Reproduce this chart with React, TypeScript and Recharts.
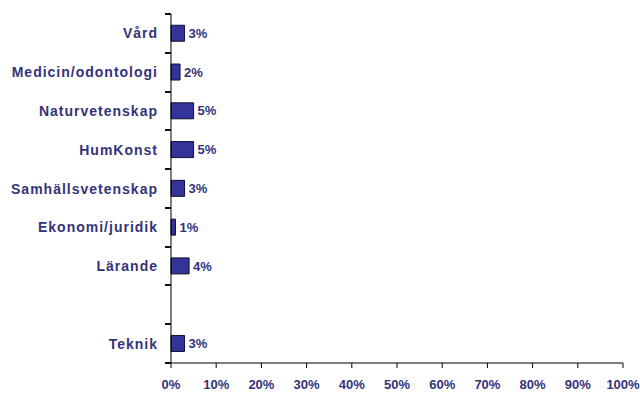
import { BarChart, Bar, XAxis, YAxis, LabelList } from "recharts";

const categories = [
  "Vård",
  "Medicin/odontologi",
  "Naturvetenskap",
  "HumKonst",
  "Samhällsvetenskap",
  "Ekonomi/juridik",
  "Lärande",
  " ",
  "Teknik",
];
const shares: (number | null)[] = [3, 2, 5, 5, 3, 1, 4, null, 3];
const xTicks = [0, 10, 20, 30, 40, 50, 60, 70, 80, 90, 100];

const data = categories.map((name, i) => ({ name, value: shares[i] }));

const W = 640;
const H = 397;
const TOP = 14;
const BOTTOM_AXIS = 363;
const textColor = "#33337a";
const font = "Liberation Sans, Arial, sans-serif";
// tick marks sit between categories, half a band above each label
const band = (BOTTOM_AXIS - TOP) / categories.length;

function CategoryTick(props: any) {
  const { x, y, payload, index } = props;
  const last = index === categories.length - 1;
  return (
    <g>
      <rect x={x + 6} y={Math.round(y - band / 2) - 1} width={6} height={2} fill="#111" />
      {last && <rect x={x + 6} y={Math.round(y + band / 2) - 1} width={6} height={2} fill="#111" />}
      <text
        x={x - 1}
        y={y}
        dy={5}
        textAnchor="end"
        fill={textColor}
        fontSize={14}
        fontWeight="bold"
        letterSpacing={1}
        fontFamily={font}
      >
        {String(payload.value).trim()}
      </text>
    </g>
  );
}

export default function App() {
  return (
    <div style={{ position: "absolute", left: 0, top: 0, background: "#fff" }}>
      <BarChart
        width={W}
        height={H}
        data={data}
        layout="vertical"
        barCategoryGap="29%"
        margin={{ top: TOP, right: 17, bottom: 4, left: 0 }}
      >
        <XAxis
          type="number"
          domain={[0, 100]}
          ticks={xTicks}
          tickFormatter={(v) => `${v}%`}
          height={30}
          stroke="#000"
          tickSize={5}
          tickMargin={12}
          tick={{ fill: textColor, fontSize: 13, fontWeight: "bold", fontFamily: font }}
        />
        <YAxis
          type="category"
          dataKey="name"
          width={171}
          stroke="#000"
          tickSize={6}
          tickMargin={6}
          tickLine={{ stroke: "none" }}
          interval={0}
          tick={<CategoryTick />}
        />
        <Bar dataKey="value" fill="#333399" stroke="#111133" isAnimationActive={false}>
          <LabelList
            dataKey="value"
            position="right"
            offset={4}
            formatter={(v: any) => (v == null ? "" : `${v}%`)}
            fill={textColor}
            fontSize={13}
            fontWeight="bold"
            fontFamily={font}
          />
        </Bar>
      </BarChart>
    </div>
  );
}
